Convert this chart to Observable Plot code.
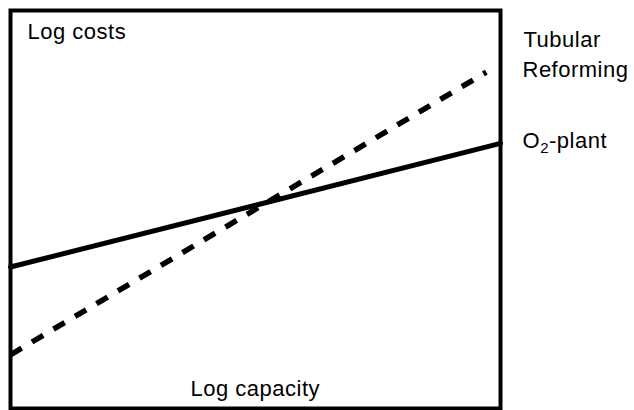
<!DOCTYPE html>
<html>
<head>
<meta charset="utf-8">
<script src="https://cdn.jsdelivr.net/npm/d3@7"></script>
<script src="https://cdn.jsdelivr.net/npm/@observablehq/plot@0.6"></script>
<style>
  html, body { margin: 0; padding: 0; background: #fff; }
  svg text { letter-spacing: 0.5px; font-family: "Liberation Sans", Arial, sans-serif; }
</style>
</head>
<body>
<div id="chart"></div>
<script>
// Data (schematic, relative units on log axes)
const o2Capacity = [0, 1];
const o2Costs = [0.3555, 0.666];
const tubCapacity = [0, 0.971];
const tubCosts = [0.135, 0.845];

const yAxisLabel = ["Log costs"];
const xAxisLabel = ["Log capacity"];
const seriesLabels = ["Tubular", "Reforming", "O2-plant"];

const o2 = o2Capacity.map((x, i) => ({x, y: o2Costs[i]}));
const tub = tubCapacity.map((x, i) => ({x, y: tubCosts[i]}));

const W = 634, H = 410;
const mL = 10, mR = 134, mT = 10, mB = 2;
// helpers converting pixel anchor positions into data units
const ux = px => (px - mL) / (W - mL - mR);
const vy = py => (H - mB - py) / (H - mT - mB);

const font = {fontFamily: "Liberation Sans, Arial, sans-serif", fontSize: 22, fill: "#000"};

const chart = Plot.plot({
  width: W,
  height: H,
  marginLeft: mL,
  marginRight: mR,
  marginTop: mT,
  marginBottom: mB,
  x: {domain: [0, 1], axis: null},
  y: {domain: [0, 1], axis: null},
  style: {background: "#fff", overflow: "visible"},
  marks: [
    Plot.line(o2, {x: "x", y: "y", stroke: "#000", strokeWidth: 5}),
    Plot.line(tub, {x: "x", y: "y", stroke: "#000", strokeWidth: 5.5, strokeDasharray: "13,12", strokeLinecap: "butt"}),
    Plot.frame({stroke: "#000", strokeWidth: 4}),
    Plot.text(yAxisLabel, {x: () => ux(27), y: () => vy(38.5), text: d => d, textAnchor: "start", lineAnchor: "bottom", ...font, clip: false}),
    Plot.text(xAxisLabel, {x: () => ux(190), y: () => vy(395), text: d => d, textAnchor: "start", lineAnchor: "bottom", ...font, clip: false}),
    Plot.text([seriesLabels[0]], {x: () => ux(523), y: () => vy(46.7), text: d => d, textAnchor: "start", lineAnchor: "bottom", ...font, clip: false}),
    Plot.text([seriesLabels[1]], {x: () => ux(522), y: () => vy(76.7), text: d => d, textAnchor: "start", lineAnchor: "bottom", ...font, clip: false}),
    Plot.text([seriesLabels[2]], {x: () => ux(522), y: () => vy(147.7), text: d => d, textAnchor: "start", lineAnchor: "bottom", ...font, clip: false})
  ]
});

// render subscript in "O2-plant"
d3.select(chart).selectAll("text").each(function() {
  const t = d3.select(this);
  if (t.text() === "O2-plant") {
    t.text(null);
    t.append("tspan").text("O");
    t.append("tspan").attr("font-size", 15).attr("dy", 5).text("2");
    t.append("tspan").attr("dy", -5).text("-plant");
  }
});

document.getElementById("chart").appendChild(chart);
</script>
</body>
</html>
